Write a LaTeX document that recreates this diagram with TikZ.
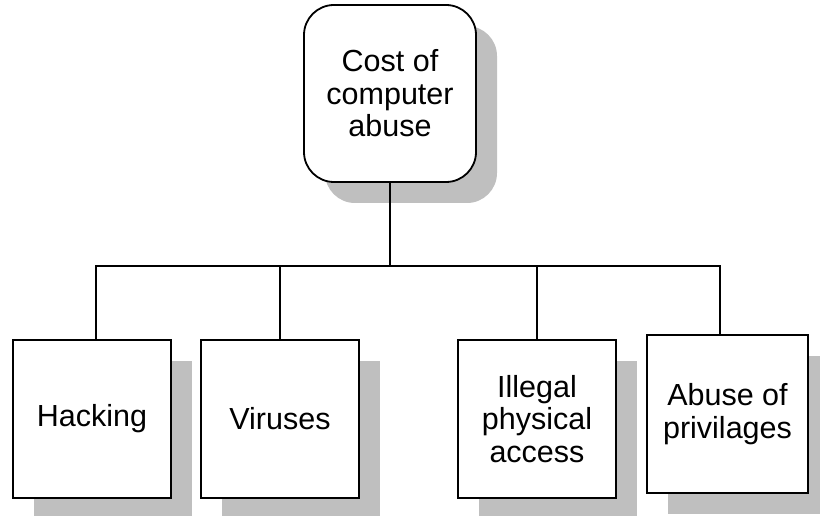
\documentclass[tikz,border=0pt]{standalone}
\usepackage{fontspec}
\setmainfont{Liberation Sans}
\usetikzlibrary{shadows}
\tikzset{
  box/.style={draw,line width=1.8pt,fill=white,align=center,inner sep=0pt,
    minimum width=158pt,minimum height=158pt,
    font=\fontsize{30.5}{32.5}\selectfont,
    drop shadow={shadow xshift=21pt,shadow yshift=-21pt,fill=black!25,opacity=1}},
  rootbox/.style={box,rounded corners=30pt,minimum width=172pt,minimum height=177pt},
  link/.style={line width=1.8pt}
}
\begin{document}
\begin{tikzpicture}[x=1pt,y=1pt]
  \useasboundingbox (0,0) rectangle (820,515);

  % Root
  \node[rootbox] (cost) at (390,421.5) {Cost of\\computer\\abuse};

  % Leaves
  \node[box] (hack) at (92,96) {Hacking};
  \node[box] (vir) at (280,96) {Viruses};
  \node[box] (illegal) at (537,96) {Illegal\\physical\\access};
  \node[box,minimum width=161pt] (abuse) at (727.5,101) {Abuse of\\privilages};

  % Tree lines
  \coordinate (bus) at (390,249);
  \draw[link] (cost) -- (bus);
  \draw[link] ([xshift=4pt]hack.north) |- (bus) -| ([xshift=-7.5pt]abuse.north);
  \draw[link] (vir) -- (vir |- bus);
  \draw[link] (illegal) -- (illegal |- bus);
\end{tikzpicture}
\end{document}
